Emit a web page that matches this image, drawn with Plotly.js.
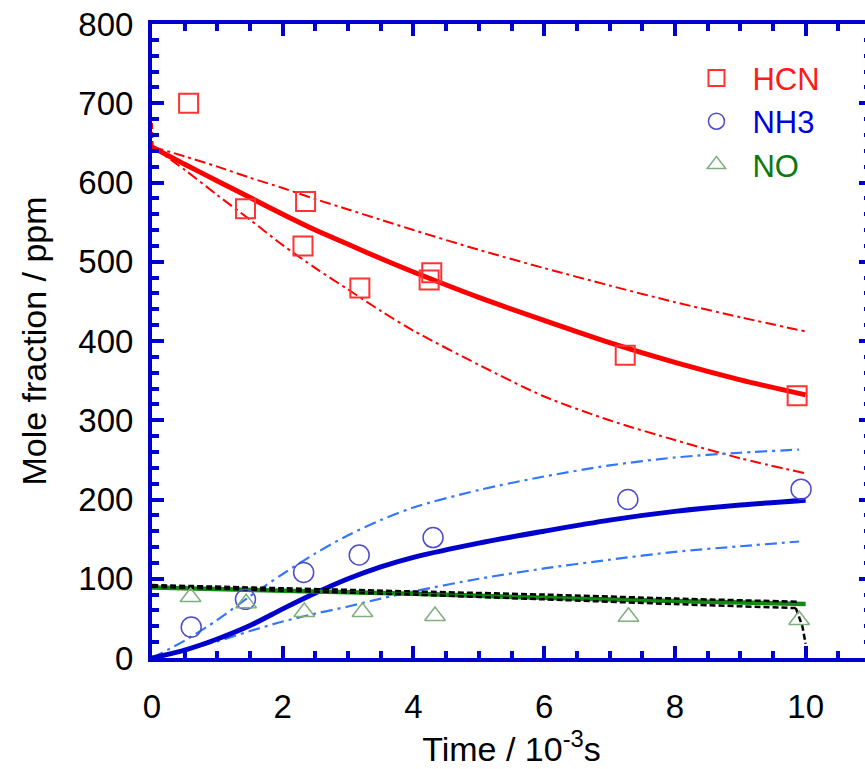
<!DOCTYPE html>
<html>
<head>
<meta charset="utf-8">
<script src="https://cdn.plot.ly/plotly-3.0.1.min.js"></script>
<style>
html,body{margin:0;padding:0;overflow:hidden;background:#fff;}
#chart{width:880px;height:769px;}
</style>
</head>
<body>
<div id="chart"></div>
<script>
// ---- measured data ----
const hcnT = [0.56, 1.43, 2.35, 2.31, 3.18, 4.28, 4.24, 7.24, 9.87];
const hcnY = [700, 567, 576, 520, 467, 486, 477, 382, 331];
const nh3T = [0.60, 1.43, 2.32, 3.17, 4.30, 7.28, 9.93];
const nh3Y = [39, 74, 108, 130, 152, 200, 213];
const noT = [0.59, 1.44, 2.33, 3.22, 4.33, 7.29, 9.90];
const noY = [77, 69, 58, 58, 53, 52, 48];

// model curves
const tModel = [0, 0.5, 1, 1.5, 2, 2.5, 3, 3.5, 4, 5, 6, 7, 8, 9, 10];
const hcnModel = [645, 623, 602, 581, 560, 540, 522, 504, 487, 455, 426, 398, 373, 351, 332];

const tHcnBand = [0.01, 0.5, 1, 1.5, 2, 2.5, 3, 3.5, 4, 5, 6, 7, 8, 9, 10];
const hcnUpper = [645, 633, 620, 606, 593, 579, 566, 553, 540, 515, 492, 470, 449, 430, 412];
const hcnLower = [645, 616, 584, 553, 521, 492, 465, 438, 413, 370, 330, 300, 275, 252, 233];
const tHcnStart = [0, 0.01];
const hcnStart = [675, 645];

const nh3Model = [0, 10, 24, 41, 62, 82, 100, 115, 127, 145, 160, 174, 185, 193, 199];
const tNh3Band = [0, 0.5, 1, 1.5, 2, 2.5, 3, 3.5, 4, 5, 6, 7, 8, 9, 9.9];
const nh3Upper = [0, 22, 48, 78, 106, 132, 155, 174, 190, 212, 229, 243, 253, 259, 263];
const nh3Lower = [0, 10, 21, 34, 46, 56, 65, 75, 84, 100, 113, 124, 134, 141, 147];

const tNo = [0, 2, 4, 6, 8, 10];
const noModel = [89, 85, 81, 76, 72, 68];
const tNoA = [0, 2, 4, 6, 8, 9.9];
const noA = [92, 88, 84, 80, 75, 71];
const tNoB = [0, 2, 4, 6, 8, 9.85];
const noB = [90, 85, 80, 74, 68, 63];
const tNoDrop = [9.85, 9.95, 10];
const noDrop = [63, 40, 18];

const xTicks = [0, 2, 4, 6, 8, 10];
const yTicks = [0, 100, 200, 300, 400, 500, 600, 700, 800];

// ---- styles ----
const RED = '#ff0000', BLUE = '#0000cc', LBLUE = '#3377ff', GREEN = '#118a11', AX = '#0000cc';
const FONT = 'Liberation Sans, Arial, sans-serif';

function line(x, y, color, width, dash, smooth) {
  return {x: x, y: y, mode: 'lines', type: 'scatter', showlegend: false, hoverinfo: 'skip',
          line: {color: color, width: width, dash: dash || 'solid',
                 shape: smooth ? 'spline' : 'linear', smoothing: 0.8}};
}

const RDD = '11px,4px,3px,4px', BDD = '12px,5px,3px,5px';
const traces = [
  line(tHcnStart, hcnStart, RED, 2, '6px,3px'),
  line(tHcnBand, hcnUpper, RED, 2, RDD, true),
  line(tHcnBand, hcnLower, RED, 2, RDD, true),
  line(tNh3Band, nh3Upper, LBLUE, 2.2, BDD, true),
  line(tNh3Band, nh3Lower, LBLUE, 2.2, BDD, true),
  line(tModel, hcnModel, RED, 5, null, true),
  line(tModel, nh3Model, BLUE, 5, null, true),
  line(tNo, noModel, GREEN, 4.5, null, true),
  line(tNoA, noA, '#000000', 2.5, '6px,3px', true),
  line(tNoB, noB, '#000000', 2.5, '6px,3px', true),
  line(tNoDrop, noDrop, '#000000', 2.5, '6px,3px'),
  {x: hcnT, y: hcnY, mode: 'markers', type: 'scatter', name: '<span style="color:#ff1a1a">HCN</span>',
   marker: {symbol: 'square-open', size: 19, color: '#ff3333', line: {width: 2, color: '#ff3333'}}},
  {x: nh3T, y: nh3Y, mode: 'markers', type: 'scatter', name: '<span style="color:#0000dd">NH3</span>',
   marker: {symbol: 'circle-open', size: 20, color: '#4c4ccc', line: {width: 1.5, color: '#4c4ccc'}}},
  {x: noT, y: noY, mode: 'markers', type: 'scatter', name: '<span style="color:#0a7a0a">NO</span>',
   marker: {symbol: 'triangle-up-open', size: 18, color: '#7fae7f', line: {width: 1.5, color: '#7fae7f'}}}
];

const axCommon = {
  showline: true, linecolor: AX, linewidth: 4, mirror: 'allticks',
  ticks: 'inside', tickcolor: AX, tickwidth: 4, ticklen: 12,
  showgrid: false, zeroline: false,
  tickfont: {family: FONT, size: 33, color: '#000'}
};

const layout = {
  width: 880, height: 769,
  margin: {l: 152, r: 9, t: 24, b: 111},
  paper_bgcolor: '#fff', plot_bgcolor: '#fff',
  font: {family: FONT, color: '#000'},
  showlegend: true,
  legend: {x: 0.735, y: 0.957, xanchor: 'left', yanchor: 'top', bgcolor: 'rgba(0,0,0,0)',
           font: {family: FONT, size: 31}, itemwidth: 62, tracegroupgap: 0},
  xaxis: Object.assign({}, axCommon, {
    range: [0, 11], tickvals: xTicks, ticktext: xTicks.map(String),
    minor: {dtick: 0.5, tick0: 0, ticks: 'inside', ticklen: 7, tickwidth: 4, tickcolor: AX},
    ticklabelstandoff: 16,
    title: {text: 'Time / 10<sup>-3</sup>s', font: {family: FONT, size: 34, color: '#000'}, standoff: 6}
  }),
  yaxis: Object.assign({}, axCommon, {
    range: [0, 800], tickvals: yTicks, ticktext: yTicks.map(String),
    minor: {dtick: 20, tick0: 0, ticks: 'inside', ticklen: 7, tickwidth: 4, tickcolor: AX},
    ticklabelstandoff: 8,
    title: {text: 'Mole fraction / ppm', font: {family: FONT, size: 34, color: '#000'}, standoff: 22}
  })
};

Plotly.newPlot('chart', traces, layout, {displayModeBar: false, staticPlot: true});
</script>
</body>
</html>
